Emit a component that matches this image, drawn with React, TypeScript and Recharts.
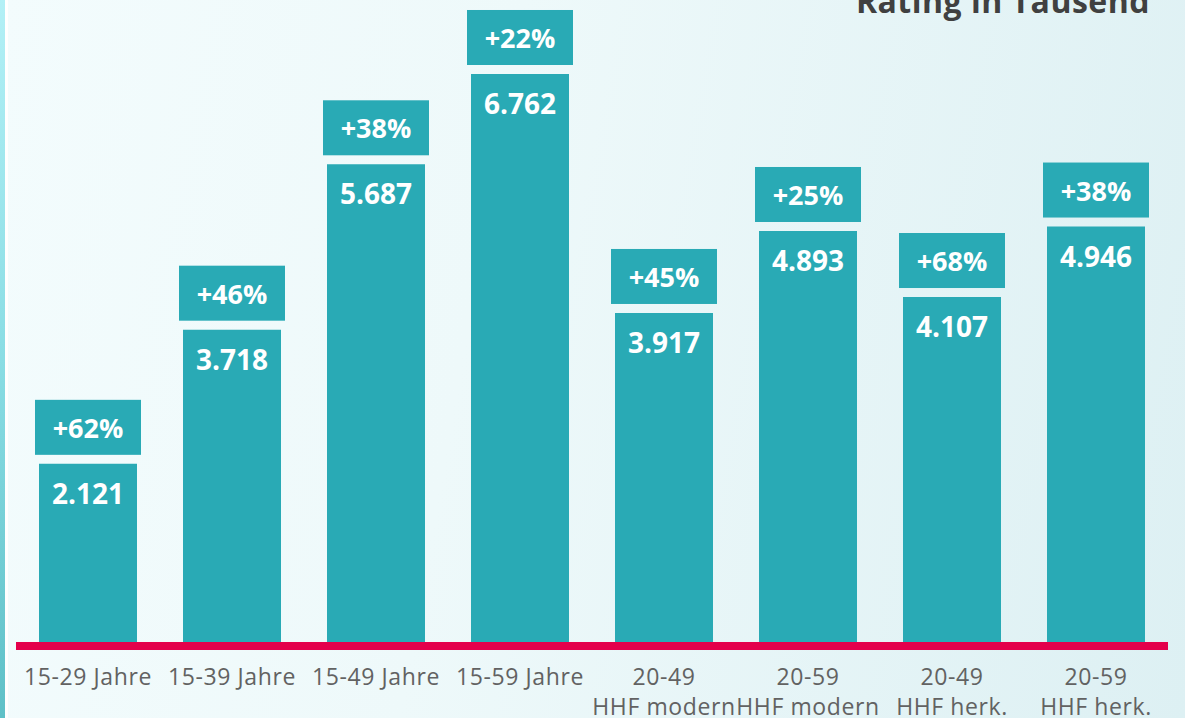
import React from "react";
import { BarChart, Bar, XAxis, YAxis, LabelList, ReferenceLine } from "recharts";

const categories = [
  "15-29 Jahre",
  "15-39 Jahre",
  "15-49 Jahre",
  "15-59 Jahre",
  "20-49\nHHF modern",
  "20-59\nHHF modern",
  "20-49\nHHF herk.",
  "20-59\nHHF herk.",
];
const ratings = [2.121, 3.718, 5.687, 6.762, 3.917, 4.893, 4.107, 4.946];
const ratingLabels = ["2.121", "3.718", "5.687", "6.762", "3.917", "4.893", "4.107", "4.946"];
const changes = ["+62%", "+46%", "+38%", "+22%", "+45%", "+25%", "+68%", "+38%"];
const title = "Rating in Tausend";

const data = categories.map((c, i) => ({
  name: c,
  rating: ratings[i],
  ratingLabel: ratingLabels[i],
  change: changes[i],
}));

const TEAL = "#29AAB5";
const FONT = "'Open Sans', sans-serif";

const Tick = (props: any) => {
  const { x, y, payload } = props;
  const lines = String(payload.value).split("\n");
  return (
    <g>
      {lines.map((l: string, i: number) => (
        <text
          key={i}
          x={x}
          y={y + 43 + i * 30}
          textAnchor="middle"
          fontFamily={FONT}
          fontSize={23}
          letterSpacing={0.6}
          fill="#626262"
        >
          {l}
        </text>
      ))}
    </g>
  );
};

const ChangeBox = (props: any) => {
  const { x, y, width, value } = props;
  const cx = x + width / 2;
  const bw = 106;
  const bh = 55;
  return (
    <g>
      <rect x={cx - bw / 2} y={y - 9 - bh} width={bw} height={bh} fill={TEAL} />
      <text
        x={cx}
        y={y - 26}
        textAnchor="middle"
        fontFamily={FONT}
        fontWeight={700}
        fontSize={27}
        fill="#ffffff"
      >
        {value}
      </text>
    </g>
  );
};

const ValueText = (props: any) => {
  const { x, y, width, value } = props;
  return (
    <text
      x={x + width / 2}
      y={y + 40}
      textAnchor="middle"
      fontFamily={FONT}
      fontWeight={700}
      fontSize={28}
      fill="#ffffff"
    >
      {value}
    </text>
  );
};

const RedLine = (props: any) => {
  const { x1, x2, y1 } = props;
  return <rect x={x1} y={y1} width={x2 - x1} height={8} fill="#E4004B" />;
};

export default function App() {
  return (
    <div
      style={{
        position: "absolute",
        left: 0,
        top: 0,
        width: 1185,
        height: 718,
        overflow: "hidden",
        background: "linear-gradient(100deg, #F3FCFD 0%, #EEF9FA 40%, #DDF0F3 100%)",
      }}
    >
      <div
        style={{
          position: "absolute",
          left: 0,
          top: 0,
          width: 5,
          height: 718,
          background: "linear-gradient(180deg, #B3F0F6 0%, #8ADDE4 50%, #5FC0C7 100%)",
        }}
      />
      <div style={{ position: "absolute", left: 5, top: 0, width: 3, height: 718, background: "#ffffff" }} />
      <svg style={{ position: "absolute", left: 0, top: 0 }} width={1185} height={40}>
        <text x={1150} y={13} textAnchor="end" fontFamily={FONT} fontWeight={700} fontSize={32} letterSpacing={0.5} fill="#404040">
          {title}
        </text>
      </svg>
      <div style={{ position: "absolute", left: 0, top: 0 }}>
        <BarChart
          width={1185}
          height={718}
          data={data}
          margin={{ top: 12, right: 17, left: 16, bottom: 16 }}
        >
          <XAxis
            dataKey="name"
            axisLine={false}
            tickLine={false}
            tickSize={0}
            tickMargin={0}
            height={60}
            interval={0}
            tick={<Tick />}
          />
          <YAxis hide domain={[0, 7.5]} />
          <Bar dataKey="rating" fill={TEAL} barSize={98} isAnimationActive={false}>
            <LabelList dataKey="change" content={<ChangeBox />} />
            <LabelList dataKey="ratingLabel" content={<ValueText />} />
          </Bar>
          <ReferenceLine y={0} shape={<RedLine />} />
        </BarChart>
      </div>
    </div>
  );
}
